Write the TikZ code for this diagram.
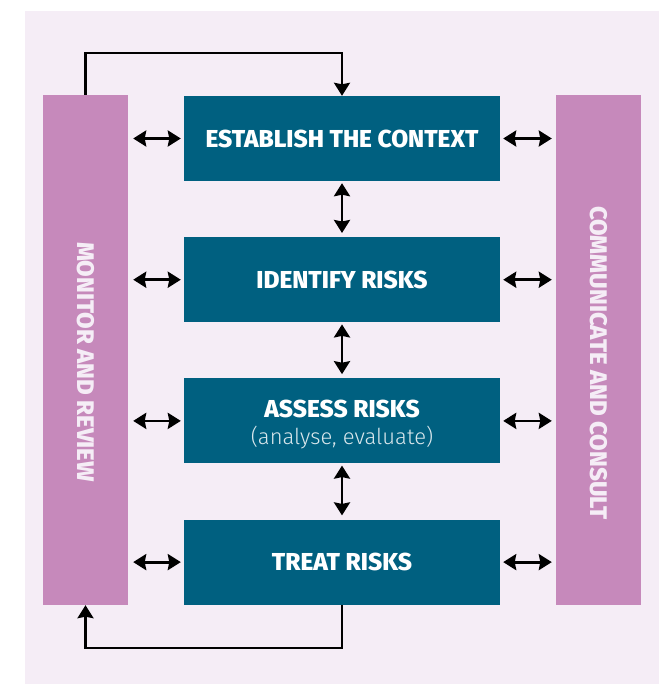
\documentclass[tikz,border=0pt]{standalone}
\usepackage{fontspec}
\setmainfont{Fira Sans}
\newfontfamily\heavyfont{Fira Sans ExtraBold}
\newfontfamily\lightfont{Fira Sans Light}
\usepackage{xcolor}
\usetikzlibrary{positioning,arrows.meta}
\definecolor{riskteal}{HTML}{006080}
\definecolor{riskpink}{HTML}{C689BB}
\definecolor{riskbg}{HTML}{F5EDF6}
\tikzset{
  stage/.style={fill=riskteal,text=white,minimum width=316pt,minimum height=85pt,
    inner sep=0pt,align=center,font=\heavyfont\fontsize{24.5}{27}\selectfont},
  bar/.style={fill=riskpink,minimum width=85pt,minimum height=510pt,inner sep=0pt},
  bartext/.style={rotate=-90,text=riskbg,font=\heavyfont\fontsize{24}{27}\selectfont},
  tip/.style={-{Stealth[length=13pt,width=16pt,inset=1.5pt]}},
  dbl/.style={{Stealth[length=13pt,width=16pt,inset=1.5pt]}-{Stealth[length=13pt,width=16pt,inset=1.5pt]},line width=2.8pt},
  loopline/.style={tip,line width=2.4pt}
}
\begin{document}
\begin{tikzpicture}[x=1pt,y=-1pt]
  \useasboundingbox (0,0) rectangle (668,684);
  \fill[riskbg] (25,11) rectangle (659,684); % background
  % side bars
  \node[bar] (mon) at (85.5,350) {};
  \node[bar] (com) at (598.5,350) {};
  \node[bartext] (montext) at ([yshift=-12pt]mon.center) {MONITOR AND REVIEW};
  \node[bartext] (comtext) at ([yshift=-13pt]com.center) {COMMUNICATE AND CONSULT};
  % process steps
  \node[stage] (ctx) at (342,138.5) {ESTABLISH THE CONTEXT};
  \node[stage] (ident) at (342,279.7) {IDENTIFY RISKS};
  \node[stage] (assess) at (342,420.9) {\rule{0pt}{25pt}ASSESS RISKS\\{\lightfont\fontsize{22}{27}\selectfont\color{white!85!riskteal}(analyse, evaluate)}};
  \node[stage] (treat) at (342,562.1) {TREAT RISKS};
  % arrows between steps
  \draw[dbl,shorten <=2pt,shorten >=4pt] (ctx) -- (ident);
  \draw[dbl,shorten <=2pt,shorten >=4pt] (ident) -- (assess);
  \draw[dbl,shorten <=2pt,shorten >=4pt] (assess) -- (treat);
  % arrows to the side bars
  \foreach \s in {ctx,ident,assess,treat}{
    \draw[dbl,shorten <=5pt,shorten >=3pt] (\s.west -| mon.east) -- (\s.west);
    \draw[dbl,shorten <=3pt,shorten >=4pt] (\s.east) -- (\s.east -| com.west);
  }
  % feedback loops
  \draw[loopline] (mon.north) -- ++(0,-42) -| (ctx.north);
  \draw[loopline] (treat.south) -- ++(0,43) -| (mon.south);
\end{tikzpicture}
\end{document}
